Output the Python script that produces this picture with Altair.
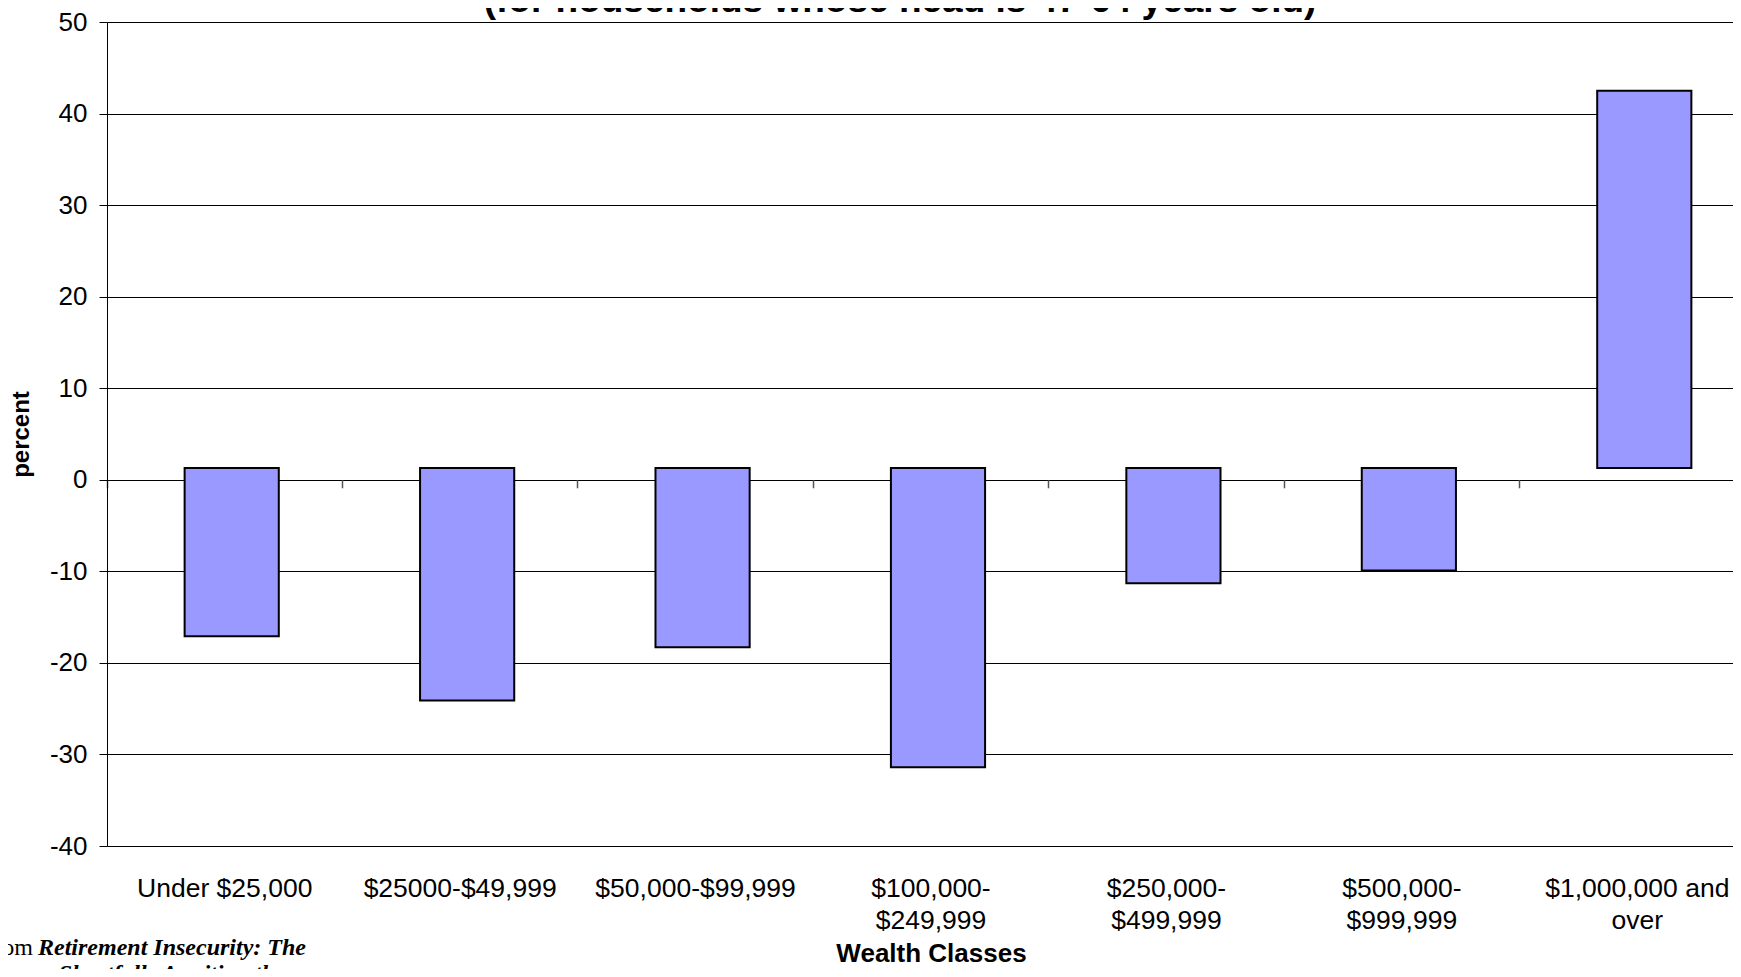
import json
import altair as alt
import pandas as pd

# ---- data ----
categories = [
    "Under $25,000",
    "$25000-$49,999",
    "$50,000-$99,999",
    "$100,000-$249,999",
    "$250,000-$499,999",
    "$500,000-$999,999",
    "$1,000,000 and over",
]
label_lines = [
    ["Under $25,000"],
    ["$25000-$49,999"],
    ["$50,000-$99,999"],
    ["$100,000-", "$249,999"],
    ["$250,000-", "$499,999"],
    ["$500,000-", "$999,999"],
    ["$1,000,000 and", "over"],
]
values = [-17.1, -24.1, -18.3, -31.4, -11.3, -9.9, 42.5]
bar_base = [1.3, 1.3, 1.3, 1.3, 1.3, 1.3, 1.3]
y_ticks = [-40, -30, -20, -10, 0, 10, 20, 30, 40, 50]
y_domain = [-40, 50]

title_text = "(for households whose head is 47-64 years old)"
source_prefix = "From"
source_line1 = "Retirement Insecurity: The"
source_line2 = "Income Shortfalls Awaiting the"

x_title = "Wealth Classes"
y_title = "percent"

# ---- layout ----
W, H = 1648, 824
SANS = "Liberation Sans"
SERIF = "Liberation Serif"

df = pd.DataFrame({"cat": categories, "value": values, "base": bar_base})

x_scale = alt.Scale(domain=categories, paddingInner=0, paddingOuter=0)
y_scale = alt.Scale(domain=y_domain, nice=False, zero=False)

label_map = {c: l for c, l in zip(categories, label_lines)}
label_expr = json.dumps(label_map) + "[datum.label]"

zero_offset = -H * (0 - y_domain[0]) / (y_domain[1] - y_domain[0])

bars = alt.Chart(df).mark_bar(
    fill="#9999FF",
    stroke="black",
    strokeWidth=2,
    width=alt.RelativeBandSize(0.4),
    xOffset=7,
).encode(
    x=alt.X(
        "cat:N",
        sort=categories,
        scale=x_scale,
        axis=alt.Axis(
            orient="bottom",
            title=x_title,
            labelExpr=label_expr,
            labelAngle=0,
            ticks=False,
            domain=False,
            labelPadding=29,
            labelFont=SANS,
            labelFontSize=26.5,
            labelLineHeight=32,
            labelColor="black",
            labelLimit=500,
            labelOverlap=False,
            titleFont=SANS,
            titleFontSize=26,
            titleFontWeight="bold",
            titleColor="black",
            titlePadding=7,
        ),
    ),
    y=alt.Y(
        "value:Q",
        scale=y_scale,
        axis=alt.Axis(
            values=y_ticks,
            labelExpr="'' + datum.value",
            title=y_title,
            grid=True,
            gridColor="black",
            gridOpacity=1,
            gridWidth=1,
            domainColor="black",
            domainWidth=1,
            tickColor="black",
            tickSize=8,
            labelPadding=12,
            labelFont=SANS,
            labelFontSize=26,
            labelColor="black",
            titleFont=SANS,
            titleFontSize=24,
            titleFontWeight="bold",
            titleColor="black",
            titleX=-74,
        ),
    ),
    y2="base:Q",
)

tick_layer = alt.Chart(df).mark_rule(opacity=0).encode(
    x=alt.X(
        "cat:N",
        sort=categories,
        scale=x_scale,
        axis=alt.Axis(
            orient="bottom",
            offset=zero_offset,
            labels=False,
            title="",
            domain=False,
            ticks=True,
            tickSize=8,
            tickColor="#555555",
            tickWidth=1.5,
            bandPosition=0,
            grid=False,
        ),
    ),
)

title_df = pd.DataFrame({"t": [title_text]})
title_mark = alt.Chart(title_df).mark_text(
    font=SANS, fontSize=37, fontWeight="bold", color="black",
    align="center", baseline="alphabetic",
).encode(x=alt.value(793), y=alt.value(-10), text="t:N")

src_df1 = pd.DataFrame({"t": [source_prefix]})
src_prefix_mark = alt.Chart(src_df1).mark_text(
    font=SERIF, fontSize=24, color="black", align="right", baseline="alphabetic",
).encode(x=alt.value(-74), y=alt.value(933), text="t:N")

src_df2 = pd.DataFrame({"t": [source_line1]})
src_line1_mark = alt.Chart(src_df2).mark_text(
    font=SERIF, fontSize=24, fontWeight="bold", fontStyle="italic", color="black",
    align="left", baseline="alphabetic",
).encode(x=alt.value(-69), y=alt.value(933), text="t:N")

src_df3 = pd.DataFrame({"t": [source_line2]})
src_line2_mark = alt.Chart(src_df3).mark_text(
    font=SERIF, fontSize=24, fontWeight="bold", fontStyle="italic", color="black",
    align="left", baseline="alphabetic",
).encode(x=alt.value(-129), y=alt.value(959), text="t:N")

chart = alt.layer(
    bars, tick_layer, title_mark, src_prefix_mark, src_line1_mark, src_line2_mark
).resolve_axis(x="independent").properties(
    width=W,
    height=H,
    autosize=alt.AutoSizeParams(type="none"),
    padding={"left": 99, "top": 14, "right": -22, "bottom": 123},
).configure_view(stroke=None).configure(background="white")

chart.save("out.html", embed_options={"renderer": "svg", "actions": False})
